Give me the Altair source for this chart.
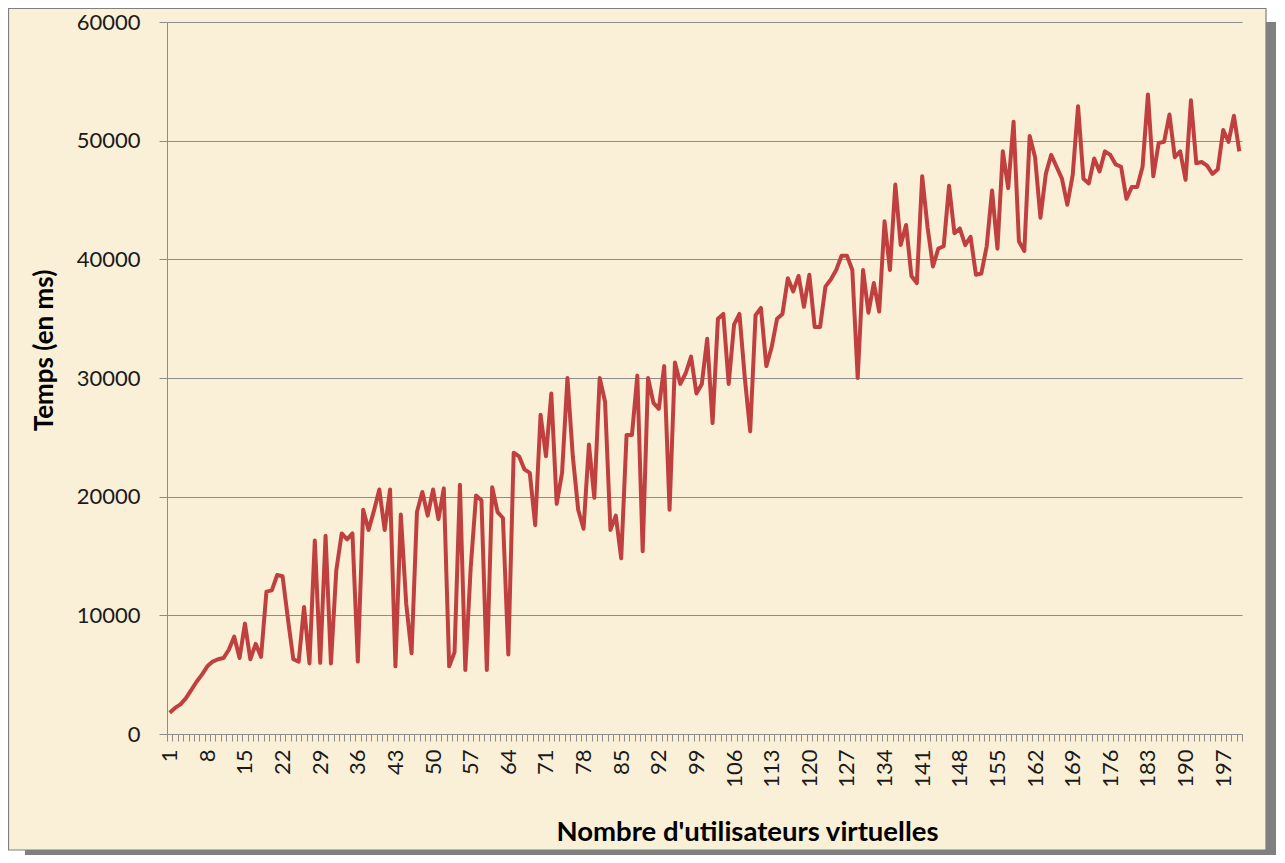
import altair as alt
import pandas as pd

# Virtual users (x categories) and response time in ms (y values)
users = list(range(1, 201))
temps = [
    1800, 2200, 2500, 3000, 3700, 4400, 5000, 5700, 6100, 6300,
    6400, 7100, 8200, 6400, 9300, 6300, 7600, 6500, 12000, 12100,
    13400, 13300, 9700, 6300, 6100, 10700, 5950, 16300, 6000, 16700,
    5950, 13800, 16900, 16400, 16900, 6100, 18900, 17200, 18800, 20600,
    17200, 20600, 5700, 18500, 11000, 6800, 18700, 20400, 18400, 20600,
    18100, 20700, 5700, 6900, 21000, 5400, 14000, 20100, 19700, 5400,
    20800, 18700, 18200, 6700, 23700, 23400, 22300, 22000, 17600, 26900,
    23400, 28700, 19400, 22000, 30000, 23400, 18900, 17300, 24400, 19900,
    30000, 28000, 17200, 18400, 14800, 25200, 25200, 30200, 15400, 30000,
    27900, 27400, 31000, 18900, 31300, 29500, 30400, 31800, 28700, 29500,
    33300, 26200, 35000, 35400, 29500, 34500, 35400, 30000, 25500, 35300,
    35900, 31000, 32600, 35000, 35400, 38400, 37300, 38600, 36000, 38700,
    34300, 34300, 37700, 38300, 39100, 40300, 40300, 39100, 30000, 39100,
    35500, 38000, 35600, 43200, 39100, 46300, 41200, 42900, 38600, 38000,
    47000, 42700, 39400, 40900, 41100, 46200, 42200, 42600, 41200, 41900,
    38700, 38800, 41100, 45800, 40900, 49100, 46000, 51600, 41500, 40700,
    50400, 48600, 43500, 47200, 48800, 47800, 46800, 44600, 47100, 52900,
    46800, 46400, 48500, 47400, 49100, 48800, 48000, 47800, 45100, 46100,
    46100, 47800, 53900, 47000, 49800, 49900, 52200, 48600, 49100, 46700,
    53400, 48100, 48200, 47900, 47200, 47600, 50900, 49900, 52100, 49100,
]
y_ticks = [0, 10000, 20000, 30000, 40000, 50000, 60000]
x_title = "Nombre d'utilisateurs virtuelles"
y_title = "Temps (en ms)"

df = pd.DataFrame({"users": users, "temps": temps})

W, H = 1075, 712
PAD = {"left": 159, "top": 14, "right": 34, "bottom": 121}
n = len(users)
step = W / n
boundaries = [i + 0.5 for i in range(0, n + 1)]

FONT = "Lato"
BG = "#FAF0D8"
GRID = "#8C8C8C"
LINE = "#C0403F"
SHADOW = "#808080"

one = alt.Data(values=[{"k": 0}])

FR_L, FR_T, FR_R, FR_B = -158.5, -13.5, W + 24, H + 116


def deco(color, x, x2, y, y2):
    return alt.Chart(one).mark_rect(color=color).encode(
        x=alt.value(x), x2=alt.value(x2), y=alt.value(y), y2=alt.value(y2)
    )


shadow_r = deco(SHADOW, FR_R, W + 45, 0, H + 135)
shadow_b = deco(SHADOW, -142, W + 45, FR_B, H + 135)
white_tr = deco("#FFFFFF", FR_R, W + 45, -20, 0)
white_bl = deco("#FFFFFF", -170, -142, FR_B, H + 135)
frame = alt.Chart(one).mark_rect(
    fill=None, stroke="#7F7F7F", strokeWidth=1.2
).encode(
    x=alt.value(FR_L), x2=alt.value(FR_R), y=alt.value(FR_T), y2=alt.value(FR_B)
)

line = alt.Chart(df).mark_line(
    color=LINE, strokeWidth=4, strokeJoin="round"
).encode(
    x=alt.X(
        "users:Q",
        scale=alt.Scale(domain=[0.5, n + 0.5], nice=False, zero=False),
        axis=alt.Axis(
            values=boundaries,
            labelExpr="((datum.value - 0.5) % 7 == 0 && datum.value < 200) ? format(datum.value + 0.5, 'd') : ''",
            labelOffset=step / 2,
            labelAngle=-90,
            labelAlign="right",
            labelBaseline="middle",
            labelOverlap=False,
            labelFlush=False,
            labelBound=False,
            labelPadding=8,
            labelFont=FONT,
            labelFontSize=22,
            labelColor="#1A1A1A",
            grid=False,
            tickSize=7,
            tickColor=GRID,
            domainColor=GRID,
            title=x_title,
            titleFont=FONT,
            titleFontSize=27.5,
            titleFontWeight="bold",
            titleColor="#000000",
            titleX=580,
            titleY=98,
            titleAnchor="middle",
            titleAlign="center",
            titleBaseline="middle",
        ),
    ),
    y=alt.Y(
        "temps:Q",
        scale=alt.Scale(domain=[0, 60000], nice=False),
        axis=alt.Axis(
            values=y_ticks,
            format="d",
            grid=True,
            gridColor=GRID,
            gridWidth=1.2,
            tickSize=8,
            tickColor=GRID,
            domainColor=GRID,
            labelPadding=19,
            labelFont=FONT,
            labelFontSize=22,
            labelColor="#1A1A1A",
            title=y_title,
            titleFont=FONT,
            titleFontSize=26,
            titleFontWeight="bold",
            titleColor="#000000",
            titleAngle=-90,
            titleX=-123,
            titleY=328,
            titleAlign="center",
            titleBaseline="middle",
        ),
    ),
)

chart = alt.layer(
    shadow_r, shadow_b, white_tr, white_bl, frame, line
).properties(
    width=W,
    height=H,
    padding=PAD,
    autosize=alt.AutoSizeParams(type="none"),
).configure(
    background=BG
).configure_view(
    stroke=None
)

chart.save("out.html", embed_options={"renderer": "svg", "actions": False})
